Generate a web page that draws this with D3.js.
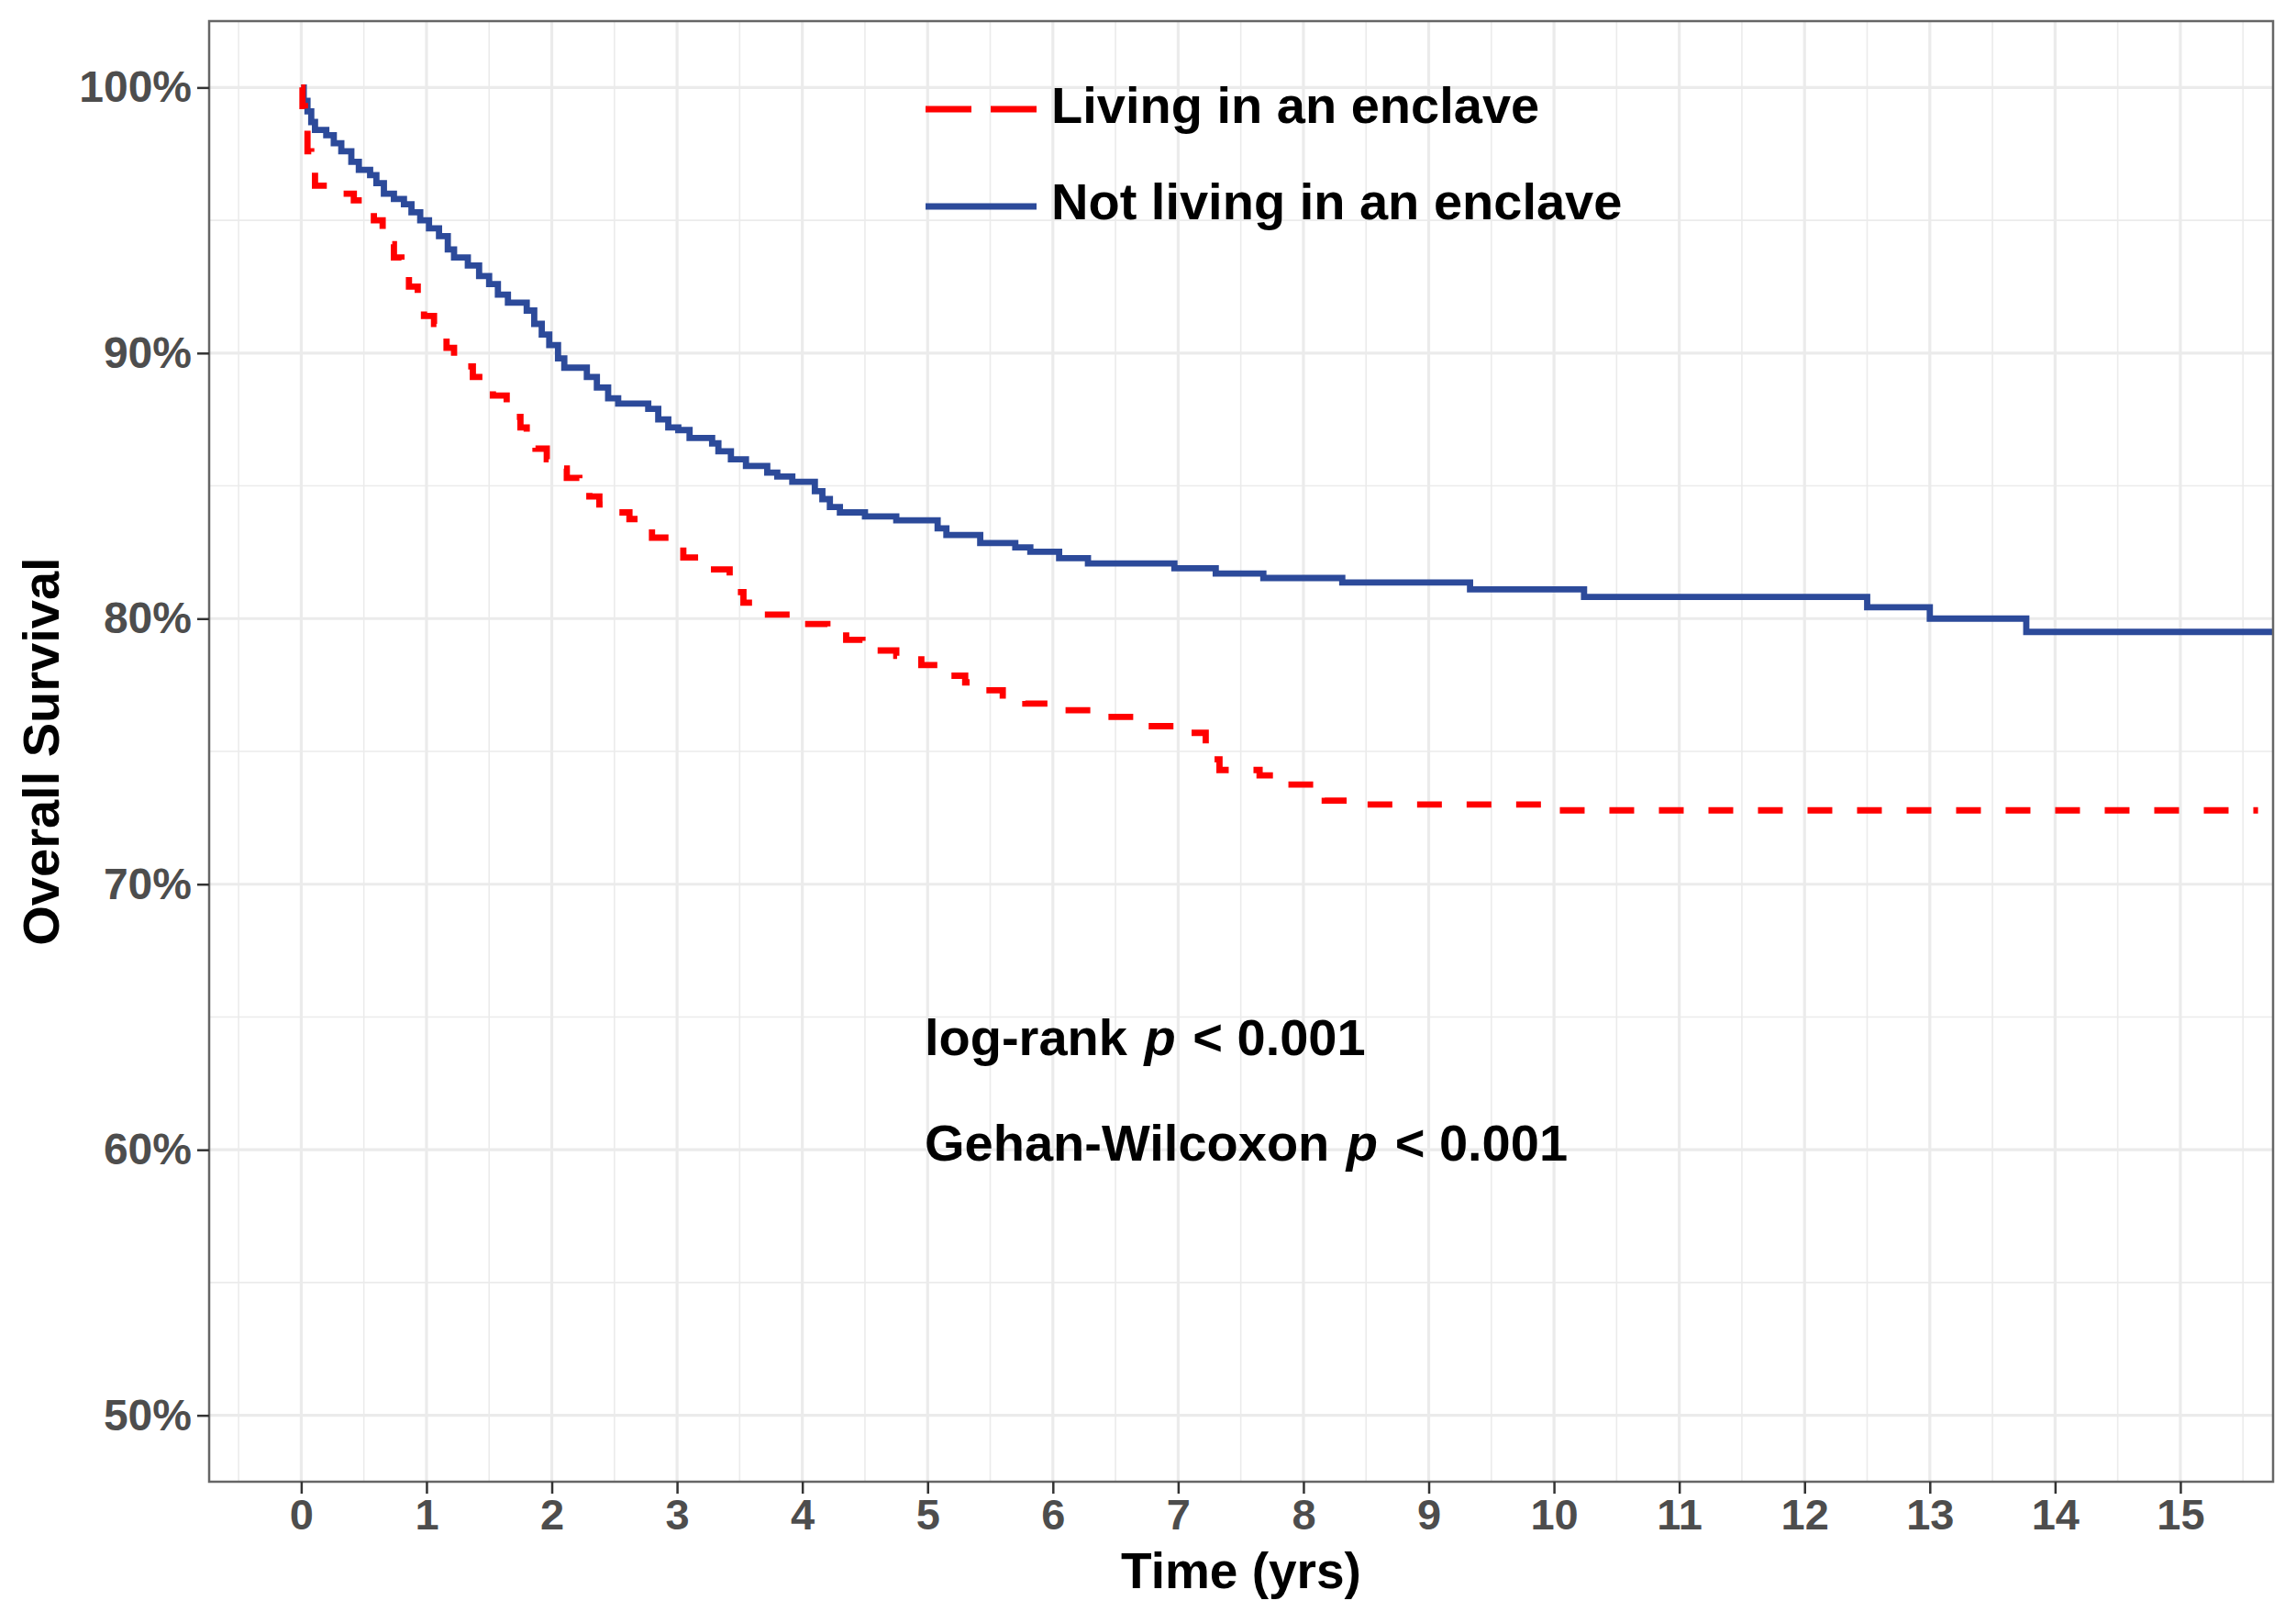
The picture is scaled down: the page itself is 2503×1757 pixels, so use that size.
<!DOCTYPE html>
<html>
<head>
<meta charset="utf-8">
<script src="https://cdn.jsdelivr.net/npm/d3@7"></script>
<style>
  body { margin: 0; background: #fff; }
  text { font-family: "Liberation Sans", Arial, sans-serif; font-weight: bold; }
</style>
</head>
<body>
<svg id="chart" width="2503" height="1757"></svg>
<script>
// Kaplan-Meier steps (time in years, survival in %)
const enclaveTimes = [0, 0.01, 0.03, 0.05, 0.08, 0.11, 0.30, 0.42, 0.50, 0.58, 0.65, 0.69, 0.74, 0.80, 0.86, 0.93, 0.98,
  1.06, 1.10, 1.16, 1.22, 1.32, 1.37, 1.45, 1.53, 1.64, 1.70, 1.75, 1.80, 1.87, 1.96, 2.06, 2.12, 2.22, 2.30, 2.38,
  2.50, 2.62, 2.70, 2.80, 2.99, 3.05, 3.20, 3.42, 3.48, 3.53, 3.60, 3.92, 4.20, 4.35, 4.48, 4.75, 4.95, 5.15, 5.30,
  5.42, 5.60, 5.78, 6.10, 6.40, 6.75, 7.05, 7.22, 7.28, 7.33, 7.65, 7.86, 8.12, 8.17, 8.32, 9.90, 15.62];
const enclaveSurv = [100, 99.3, 98.5, 97.6, 96.8, 96.3, 96.0, 95.75, 95.4, 95.0, 94.6, 94.1, 93.6, 93.0, 92.5, 91.8, 91.4,
  91.1, 90.7, 90.2, 89.8, 89.5, 89.1, 88.7, 88.4, 88.0, 87.6, 87.2, 86.8, 86.4, 86.0, 85.65, 85.3, 84.9, 84.6, 84.3,
  84.0, 83.75, 83.4, 83.05, 82.7, 82.3, 81.85, 81.5, 81.0, 80.6, 80.15, 79.8, 79.6, 79.2, 78.8, 78.6, 78.25, 77.85, 77.6,
  77.3, 77.1, 76.8, 76.55, 76.3, 75.95, 75.7, 75.2, 74.7, 74.3, 74.1, 73.75, 73.5, 73.15, 73.0, 72.78, 72.78];

const notEnclaveTimes = [0, 0.02, 0.05, 0.08, 0.11, 0.20, 0.26, 0.32, 0.40, 0.46, 0.55, 0.60, 0.66, 0.74, 0.82, 0.88, 0.95,
  1.02, 1.10, 1.17, 1.22, 1.33, 1.42, 1.50, 1.57, 1.65, 1.80, 1.86, 1.92, 1.98, 2.05, 2.10, 2.28, 2.36, 2.45, 2.53,
  2.77, 2.85, 2.93, 3.01, 3.10, 3.28, 3.33, 3.43, 3.55, 3.72, 3.80, 3.92, 4.10, 4.16, 4.22, 4.30, 4.50, 4.75, 5.08,
  5.15, 5.42, 5.70, 5.82, 6.05, 6.28, 6.97, 7.30, 7.68, 8.31, 9.33, 10.24, 12.50, 13.00, 13.77, 15.74];
const notEnclaveSurv = [100, 99.5, 99.1, 98.7, 98.4, 98.2, 97.9, 97.6, 97.2, 96.9, 96.7, 96.4, 96.0, 95.8, 95.6, 95.3, 95.0,
  94.7, 94.4, 93.9, 93.6, 93.3, 92.9, 92.6, 92.2, 91.9, 91.6, 91.1, 90.7, 90.3, 89.8, 89.45, 89.1, 88.7, 88.3, 88.1,
  87.9, 87.5, 87.2, 87.1, 86.8, 86.6, 86.3, 86.0, 85.75, 85.5, 85.35, 85.15, 84.8, 84.5, 84.2, 84.0, 83.85, 83.7, 83.4,
  83.15, 82.85, 82.68, 82.52, 82.28, 82.08, 81.9, 81.7, 81.53, 81.36, 81.1, 80.82, 80.43, 80.0, 79.5, 79.5];

const xTicks = d3.range(0, 16);
const xMinor = d3.range(-0.5, 16, 1);
const yTicks = [50, 60, 70, 80, 90, 100];
const yMinor = [55, 65, 75, 85, 95];

const seriesNames = ['Living in an enclave', 'Not living in an enclave'];
const seriesColors = ['#ff0000', '#2c4a9a'];

const svg = d3.select('#chart');
const panel = { left: 228, right: 2478, top: 23, bottom: 1615 };

const x = d3.scaleLinear().domain([-0.735, 15.74]).range([panel.left, panel.right]);
const y = d3.scaleLinear().domain([47.5, 102.5]).range([panel.bottom, panel.top]);

// grid lines
const grid = svg.append('g');
grid.selectAll('.xminor').data(xMinor).enter().append('line')
  .attr('x1', d => x(d)).attr('x2', d => x(d))
  .attr('y1', panel.top).attr('y2', panel.bottom)
  .attr('stroke', '#ebebeb').attr('stroke-width', 1.6);
grid.selectAll('.yminor').data(yMinor).enter().append('line')
  .attr('x1', panel.left).attr('x2', panel.right)
  .attr('y1', d => y(d)).attr('y2', d => y(d))
  .attr('stroke', '#ebebeb').attr('stroke-width', 1.6);
grid.selectAll('.xmajor').data(xTicks).enter().append('line')
  .attr('x1', d => x(d)).attr('x2', d => x(d))
  .attr('y1', panel.top).attr('y2', panel.bottom)
  .attr('stroke', '#ebebeb').attr('stroke-width', 3.2);
grid.selectAll('.ymajor').data(yTicks).enter().append('line')
  .attr('x1', panel.left).attr('x2', panel.right)
  .attr('y1', d => y(d)).attr('y2', d => y(d))
  .attr('stroke', '#ebebeb').attr('stroke-width', 3.2);

// survival curves
const line = d3.line()
  .x(d => x(d[0]))
  .y(d => y(d[1]))
  .curve(d3.curveStepAfter);

svg.append('path')
  .datum(d3.zip(notEnclaveTimes, notEnclaveSurv))
  .attr('d', line)
  .attr('fill', 'none')
  .attr('stroke', seriesColors[1])
  .attr('stroke-width', 6.8);

svg.append('path')
  .datum(d3.zip(enclaveTimes, enclaveSurv))
  .attr('d', line)
  .attr('fill', 'none')
  .attr('stroke', seriesColors[0])
  .attr('stroke-width', 6.8)
  .attr('stroke-dasharray', '27,27');

// panel border
svg.append('rect')
  .attr('x', panel.left).attr('y', panel.top)
  .attr('width', panel.right - panel.left).attr('height', panel.bottom - panel.top)
  .attr('fill', 'none').attr('stroke', '#666').attr('stroke-width', 2.5);

// axes
const xAxis = svg.append('g')
  .attr('transform', `translate(0,${panel.bottom})`)
  .call(d3.axisBottom(x).tickValues(xTicks).tickSize(13).tickPadding(6).tickFormat(d3.format('d')));
const yAxis = svg.append('g')
  .attr('transform', `translate(${panel.left},0)`)
  .call(d3.axisLeft(y).tickValues(yTicks).tickSize(13).tickPadding(6).tickFormat(d => d + '%'));

[xAxis, yAxis].forEach(ax => {
  ax.select('.domain').remove();
  ax.selectAll('.tick line').attr('stroke', '#333').attr('stroke-width', 2.5);
  ax.selectAll('.tick text')
    .attr('fill', '#4d4d4d')
    .style('font-family', '"Liberation Sans", Arial, sans-serif')
    .style('font-weight', 'bold');
});
xAxis.selectAll('.tick text').style('font-size', '47px');
yAxis.selectAll('.tick text').style('font-size', '48px');

// axis titles
svg.append('text')
  .attr('x', (panel.left + panel.right) / 2).attr('y', 1731)
  .attr('text-anchor', 'middle')
  .style('font-size', '55px').attr('fill', '#000')
  .text('Time (yrs)');
svg.append('text')
  .attr('transform', `translate(64,${(panel.top + panel.bottom) / 2}) rotate(-90)`)
  .attr('text-anchor', 'middle')
  .style('font-size', '56px').attr('fill', '#000')
  .text('Overall Survival');

// legend
const legendY = [119, 225];
const legendBase = [134, 239];
const legend = svg.append('g');
seriesNames.forEach((name, i) => {
  legend.append('line')
    .attr('x1', 1009).attr('x2', 1130)
    .attr('y1', legendY[i]).attr('y2', legendY[i])
    .attr('stroke', seriesColors[i]).attr('stroke-width', 7)
    .attr('stroke-dasharray', i === 0 ? '50,21' : null);
  legend.append('text')
    .attr('x', 1146).attr('y', legendBase[i])
    .style('font-size', '56px').attr('fill', '#000')
    .text(name);
});

// test annotations, one text each so the italic p stays inline
const tests = ['log-rank', 'Gehan-Wilcoxon'];
const testBase = [1150, 1265];
tests.forEach((name, i) => {
  const t = svg.append('text')
    .attr('x', 1008).attr('y', testBase[i])
    .style('font-size', '56px').attr('fill', '#000');
  t.append('tspan').text(name + '\u00a0');
  t.append('tspan').attr('dx', 3).style('font-style', 'italic').text('p');
  t.append('tspan').attr('dx', 3).text('\u00a0< 0.001');
});
</script>
</body>
</html>
